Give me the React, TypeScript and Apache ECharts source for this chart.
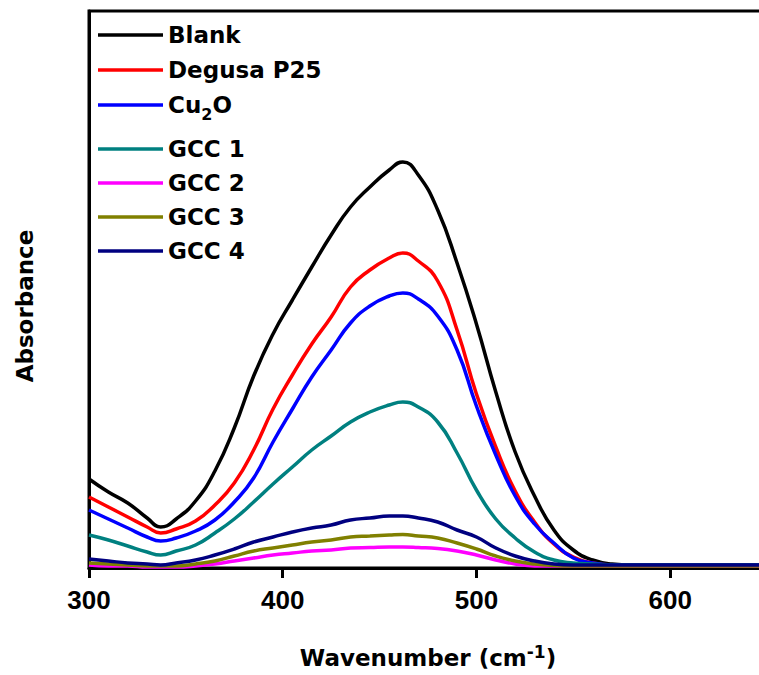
import React, { useEffect, useRef } from "react";
import * as echarts from "echarts";

const wavenumbers = [300, 310, 320, 330, 337, 345, 355, 365, 375, 385, 395, 405, 415, 425, 435, 445, 455, 462, 470, 480, 490, 500, 510, 520, 530, 540, 550, 560, 570, 580, 600, 620, 650];

const blank = [0.178, 0.152, 0.130, 0.100, 0.082, 0.098, 0.134, 0.194, 0.280, 0.384, 0.468, 0.536, 0.602, 0.666, 0.722, 0.762, 0.796, 0.812, 0.786, 0.716, 0.610, 0.488, 0.352, 0.232, 0.144, 0.076, 0.036, 0.016, 0.008, 0.006, 0.006, 0.006, 0.006];
const degusaP25 = [0.142, 0.122, 0.102, 0.082, 0.070, 0.078, 0.094, 0.126, 0.170, 0.236, 0.318, 0.386, 0.448, 0.502, 0.562, 0.596, 0.620, 0.630, 0.614, 0.574, 0.476, 0.348, 0.242, 0.154, 0.092, 0.048, 0.022, 0.010, 0.006, 0.006, 0.006, 0.006, 0.006];
const cu2o = [0.116, 0.098, 0.080, 0.062, 0.054, 0.060, 0.074, 0.096, 0.132, 0.180, 0.252, 0.318, 0.382, 0.436, 0.490, 0.524, 0.544, 0.550, 0.538, 0.504, 0.436, 0.324, 0.226, 0.144, 0.088, 0.050, 0.020, 0.010, 0.006, 0.006, 0.006, 0.006, 0.006];
const gcc1 = [0.066, 0.056, 0.044, 0.032, 0.026, 0.034, 0.046, 0.070, 0.098, 0.132, 0.168, 0.202, 0.236, 0.264, 0.292, 0.312, 0.326, 0.332, 0.322, 0.292, 0.230, 0.156, 0.098, 0.060, 0.032, 0.016, 0.010, 0.008, 0.006, 0.006, 0.006, 0.006, 0.006];
const gcc2 = [0.006, 0.004, 0.004, 0.002, 0.002, 0.002, 0.004, 0.008, 0.014, 0.020, 0.026, 0.030, 0.034, 0.036, 0.040, 0.041, 0.042, 0.042, 0.041, 0.039, 0.034, 0.026, 0.016, 0.008, 0.004, 0.004, 0.004, 0.004, 0.004, 0.004, 0.004, 0.004, 0.004];
const gcc3 = [0.010, 0.008, 0.006, 0.004, 0.004, 0.004, 0.008, 0.014, 0.024, 0.034, 0.040, 0.046, 0.052, 0.056, 0.062, 0.064, 0.066, 0.067, 0.064, 0.060, 0.050, 0.038, 0.024, 0.014, 0.008, 0.005, 0.004, 0.004, 0.004, 0.004, 0.004, 0.004, 0.004];
const gcc4 = [0.018, 0.014, 0.010, 0.008, 0.006, 0.010, 0.016, 0.026, 0.038, 0.052, 0.062, 0.072, 0.080, 0.086, 0.096, 0.100, 0.104, 0.104, 0.100, 0.092, 0.076, 0.062, 0.040, 0.024, 0.014, 0.008, 0.006, 0.006, 0.006, 0.006, 0.006, 0.006, 0.006];

const seriesNames = ["Blank", "Degusa P25", "Cu2O", "GCC 1", "GCC 2", "GCC 3", "GCC 4"];
const seriesValues = [blank, degusaP25, cu2o, gcc1, gcc2, gcc3, gcc4];
const seriesColors = ["#000000", "#ff0000", "#0000ff", "#008080", "#ff00ff", "#808000", "#000080"];
const legendGroupA = ["Blank", "Degusa P25", "Cu2O"];
const legendGroupB = ["GCC 1", "GCC 2", "GCC 3", "GCC 4"];

const TITLE_FONT = "'DejaVu Sans', sans-serif";
const TICK_FONT = "'Liberation Sans', Arial, sans-serif";

const legendBase = (data: string[], top: number, lineHeight: number) => ({
  orient: "vertical",
  left: 93,
  top,
  icon: "rect",
  itemWidth: 65,
  itemHeight: 3.5,
  itemGap: 0,
  data,
  textStyle: {
    fontFamily: TITLE_FONT,
    fontSize: 23,
    fontWeight: "bold",
    color: "#000",
    lineHeight,
    rich: {
      b: { fontFamily: TITLE_FONT, fontSize: 23, fontWeight: "bold", color: "#000", lineHeight },
      sub: { fontFamily: TITLE_FONT, fontSize: 16, fontWeight: "bold", color: "#000", lineHeight: 16, padding: [19, 0, 0, 0] },
    },
  },
  formatter: (name: string) => (name === "Cu2O" ? "{b|Cu}{sub|2}{b|O}" : name),
});

export default function App() {
  const ref = useRef<HTMLDivElement>(null);
  useEffect(() => {
    if (!ref.current) return;
    const chart = echarts.init(ref.current, undefined, { renderer: "svg" });
    chart.setOption({
      animation: false,
      backgroundColor: "#ffffff",
      grid: {
        left: 89,
        right: -8,
        top: 11,
        bottom: 107,
        outerBoundsMode: "none",
        containLabel: false,
        show: true,
        borderColor: "#000",
        borderWidth: 3,
      },
      legend: [legendBase(legendGroupA, 12.5, 35), legendBase(legendGroupB, 127, 34)],
      xAxis: {
        type: "value",
        min: 300,
        max: 650,
        interval: 100,
        name: "{n|Wavenumber (cm}{sup|-1}{n|)}",
        nameLocation: "middle",
        nameGap: 75,
        nameTextStyle: {
          fontFamily: TITLE_FONT,
          fontSize: 23,
          fontWeight: "bold",
          color: "#000",
          rich: {
            n: { fontFamily: TITLE_FONT, fontSize: 23, fontWeight: "bold", color: "#000", lineHeight: 30 },
            sup: { fontFamily: TITLE_FONT, fontSize: 17, fontWeight: "bold", color: "#000", lineHeight: 12, verticalAlign: "top" },
          },
        },
        axisLine: { show: true, onZero: false, lineStyle: { color: "#000", width: 3 } },
        axisTick: { show: true, inside: false, length: 10, lineStyle: { color: "#000", width: 3 } },
        axisLabel: {
          margin: 19,
          showMaxLabel: false,
          fontFamily: TICK_FONT,
          fontSize: 26,
          fontWeight: "bold",
          color: "#000",
        },
        splitLine: { show: false },
      },
      yAxis: {
        type: "value",
        min: 0,
        max: 1.114,
        name: "Absorbance",
        nameLocation: "middle",
        nameGap: 52,
        nameRotate: 90,
        nameTextStyle: {
          fontFamily: TITLE_FONT,
          fontSize: 23,
          fontWeight: "bold",
          color: "#000",
          lineHeight: 24,
          padding: [0, 33, 0, 0],
        },
        axisLine: { show: true, onZero: false, lineStyle: { color: "#000", width: 3 } },
        axisTick: { show: false },
        axisLabel: { show: false },
        splitLine: { show: false },
      },
      series: seriesNames.map((name, i) => ({
        name,
        type: "line",
        data: wavenumbers.map((w, j) => [w, seriesValues[i][j]]),
        smooth: 0.5,
        showSymbol: false,
        symbol: "none",
        color: seriesColors[i],
        lineStyle: { color: seriesColors[i], width: 3.5 },
        z: 2 + i,
      })),
    });
    return () => chart.dispose();
  }, []);
  return (
    <div style={{ position: "fixed", left: 0, top: 0, width: 759, height: 675, overflow: "hidden", background: "#fff" }}>
      <div ref={ref} style={{ width: 759, height: 675 }} />
    </div>
  );
}
